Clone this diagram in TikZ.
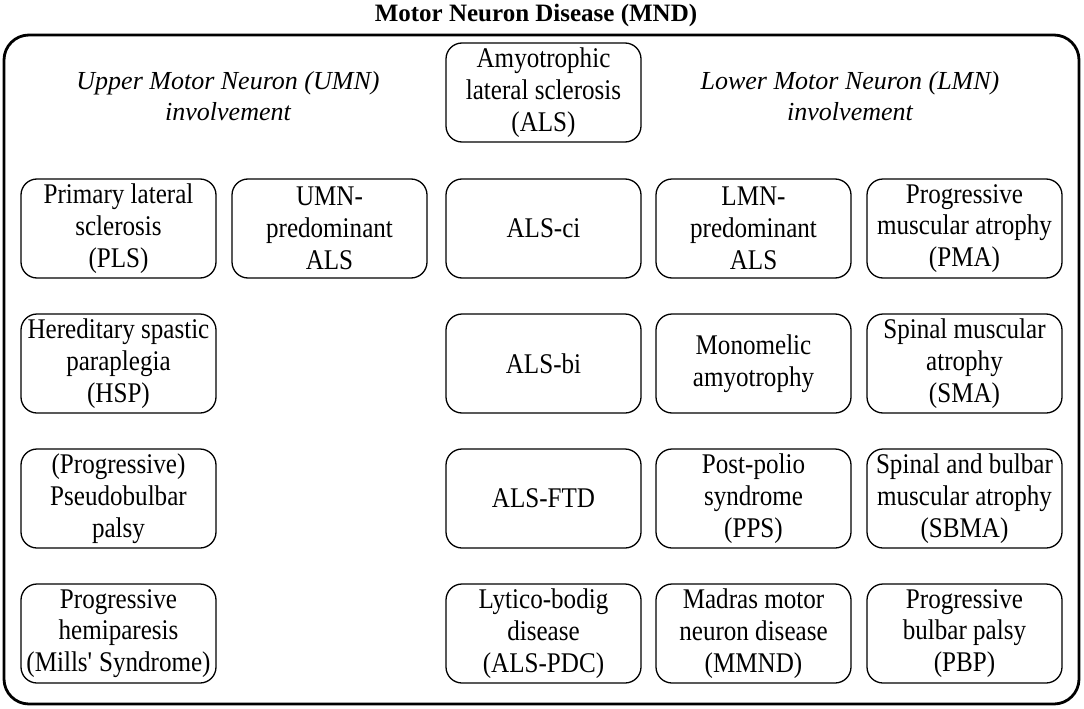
\documentclass[tikz,border=0pt]{standalone}
\usepackage{fontspec}
\setmainfont{Liberation Serif}
\newfontfamily\boxfont{Liberation Serif}[FakeStretch=0.88]
\begin{document}
\begin{tikzpicture}[x=1pt,y=-1pt,
  box/.style={draw, line width=1.3pt, rounded corners=16pt, minimum width=195pt,
    minimum height=99pt, inner sep=0pt, align=center,
    font=\boxfont\fontsize{28.5}{31.7}\selectfont},
  hdr/.style={align=center, inner sep=0pt, font=\fontsize{26}{31}\selectfont\itshape},
  ttl/.style={inner sep=0pt, font=\fontsize{25}{30}\selectfont\bfseries}]
\useasboundingbox (0,0) rectangle (1084,709);
\draw[line width=2.8pt, rounded corners=25pt] (4,35) rectangle (1079,704);
\node[ttl] (title) at (536,15) {Motor Neuron Disease (MND)};
\node[hdr] (umn) at (228,96) {Upper Motor Neuron (UMN)\\involvement};
\node[hdr] (lmn) at (850,96) {Lower Motor Neuron (LMN)\\involvement};
% row 0
\node[box] (als) at (543.5,92.5) {Amyotrophic\\lateral sclerosis\\(ALS)};
% row 1
\node[box] (pls) at (118.5,228.5) {Primary lateral\\sclerosis\\(PLS)};
\node[box] (umnals) at (329.5,228.5) {UMN-\\predominant\\ALS};
\node[box] (alsci) at (543.5,228.5) {ALS-ci};
\node[box] (lmnals) at (753.5,228.5) {LMN-\\predominant\\ALS};
\node[box] (pma) at (964.5,228.5) {Progressive\\muscular atrophy\\(PMA)};
% row 2
\node[box] (hsp) at (118.5,363.5) {Hereditary spastic\\paraplegia\\(HSP)};
\node[box] (alsbi) at (543.5,363.5) {ALS-bi};
\node[box] (mono) at (753.5,363.5) {Monomelic\\amyotrophy};
\node[box] (sma) at (964.5,363.5) {Spinal muscular\\atrophy\\(SMA)};
% row 3
\node[box] (pbp1) at (118.5,498.5) {(Progressive)\\Pseudobulbar\\palsy};
\node[box] (alsftd) at (543.5,498.5) {ALS-FTD};
\node[box] (pps) at (753.5,498.5) {Post-polio\\syndrome\\(PPS)};
\node[box] (sbma) at (964.5,498.5) {Spinal and bulbar\\muscular atrophy\\(SBMA)};
% row 4
\node[box] (mills) at (118.5,633.5) {Progressive\\hemiparesis\\(Mills\textquotesingle\ Syndrome)};
\node[box] (pdc) at (543.5,633.5) {Lytico-bodig\\disease\\(ALS-PDC)};
\node[box] (mmnd) at (753.5,633.5) {Madras motor\\neuron disease\\(MMND)};
\node[box] (pbp) at (964.5,633.5) {Progressive\\bulbar palsy\\(PBP)};
\end{tikzpicture}
\end{document}
